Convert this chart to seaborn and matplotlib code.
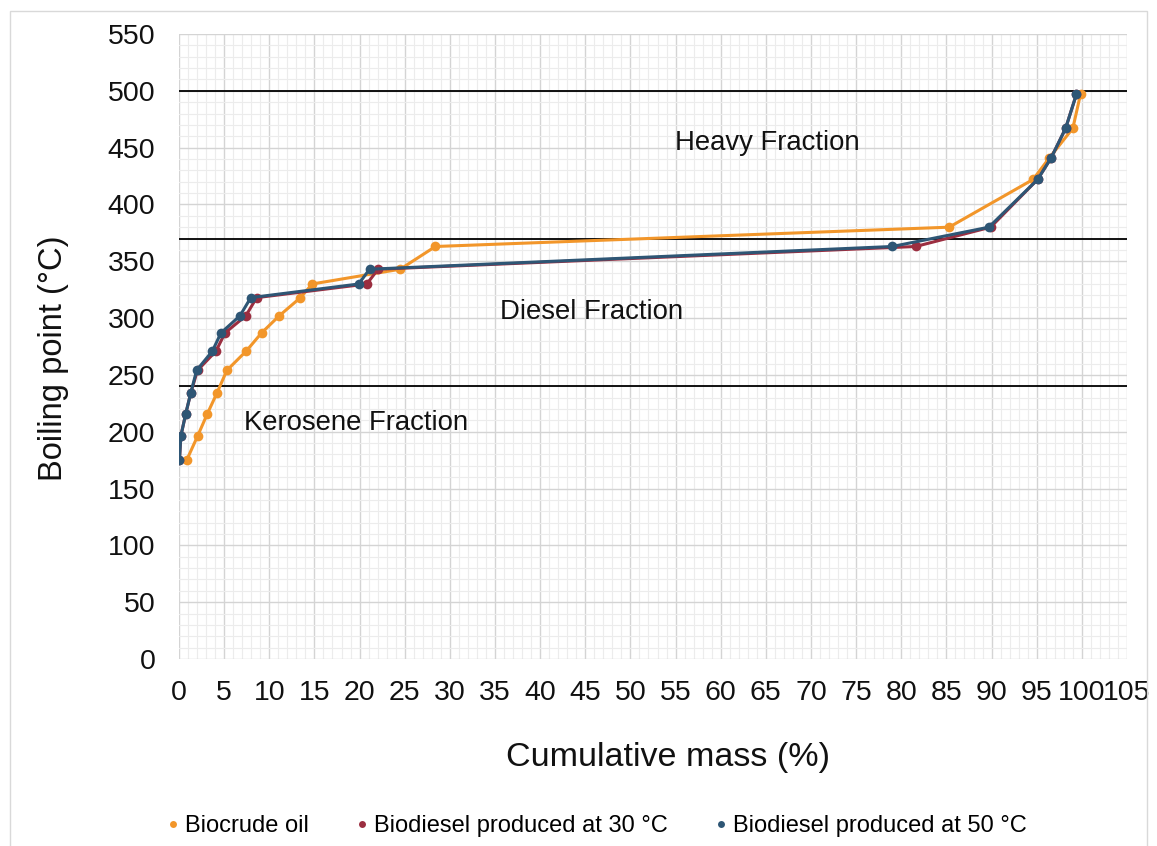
import matplotlib
matplotlib.use("Agg")
import matplotlib.pyplot as plt
from matplotlib.ticker import MultipleLocator
from matplotlib.patches import Rectangle
import seaborn as sns
import pandas as pd

# ---- data ----
series_names = ["Biocrude oil", "Biodiesel produced at 30 °C", "Biodiesel produced at 50 °C"]
bp_levels = [175, 196, 216, 234, 254, 271, 287, 302, 318, 330, 343, 363, 380, 422, 441, 467, 497]
biocrude_mass = [0.85, 2.05, 3.15, 4.2, 5.3, 7.45, 9.15, 11.1, 13.45, 14.75, 24.5, 28.4, 85.3, 94.6, 96.4, 99.0, 99.85]
bd30_mass = [0.05, 0.2, 0.75, 1.3, 2.05, 4.1, 5.1, 7.4, 8.6, 20.8, 22.05, 81.6, 89.9, 95.1, 96.6, 98.2, 99.4]
bd50_mass = [0.05, 0.2, 0.75, 1.3, 1.95, 3.7, 4.65, 6.75, 7.95, 19.9, 21.1, 79.0, 89.7, 95.1, 96.6, 98.2, 99.4]
fraction_bounds = [500, 370, 240]
fraction_labels = ["Heavy Fraction", "Diesel Fraction", "Kerosene Fraction"]
fraction_label_pos = [(65.2, 454), (45.7, 305), (19.6, 208)]
x_ticks = list(range(0, 106, 5))
y_ticks = list(range(0, 551, 50))

colors = ["#F2962A", "#9B2E40", "#2E5675"]

frames = []
for name, xs in zip(series_names, [biocrude_mass, bd30_mass, bd50_mass]):
    frames.append(pd.DataFrame({"mass": xs, "bp": bp_levels, "series": name,
                                "order": range(len(xs))}))
df = pd.concat(frames, ignore_index=True)

plt.rcParams["font.family"] = ["Liberation Sans", "DejaVu Sans"]

fig = plt.figure(figsize=(11.57, 8.46), dpi=100)
ax = fig.add_axes([179 / 1157, 1 - 659 / 846, (1127 - 179) / 1157, (659 - 34) / 846])

sns.lineplot(data=df, x="mass", y="bp", hue="series", hue_order=series_names,
             palette=colors, marker="o", markersize=7, markeredgewidth=0,
             linewidth=2.2, sort=False, estimator=None, ax=ax, legend=False)

for b in fraction_bounds:
    ax.axhline(b, color="black", linewidth=1.3, zorder=1)

for (tx, ty), lab in zip(fraction_label_pos, fraction_labels):
    ax.text(tx, ty, lab, ha="center", va="center", fontsize=19.8, color="#111111")

ax.set_xlim(0, 105)
ax.set_ylim(0, 550)
ax.set_xticks(x_ticks)
ax.set_xticklabels([str(t) for t in x_ticks])
ax.set_yticks(y_ticks)
ax.set_yticklabels([str(t) for t in y_ticks])
ax.xaxis.set_minor_locator(MultipleLocator(1))
ax.yaxis.set_minor_locator(MultipleLocator(10))
ax.grid(which="major", color="#d4d4d4", linewidth=1.0)
ax.grid(which="minor", color="#ececec", linewidth=0.8)
ax.set_axisbelow(True)
for s in ax.spines.values():
    s.set_visible(False)
ax.tick_params(which="both", length=0)
ax.tick_params(axis="x", labelsize=20.5, pad=15, colors="#111111")
ax.tick_params(axis="y", labelsize=20.5, pad=17, colors="#111111")

ax.set_xlabel("Cumulative mass (%)", fontsize=24.5, labelpad=26, color="#111111")
ax.set_ylabel("Boiling point (°C)", fontsize=23.5, labelpad=28, color="#111111")
ax.xaxis.label.set_x(0.516)
ax.yaxis.label.set_y(0.482)

handles = [plt.Line2D([], [], marker="o", linestyle="none", markersize=5,
                      markeredgewidth=0, color=c) for c in colors]
fig.legend(handles, series_names, loc="center", bbox_to_anchor=(594 / 1157, 1 - 826 / 846),
           ncol=3, frameon=False, fontsize=17, handletextpad=0.0, columnspacing=1.75,
           handlelength=1.0)

fig.patches.append(Rectangle((10 / 1157, -0.1), (1147 - 10) / 1157, 1.1 - 11 / 846,
                             transform=fig.transFigure, fill=False,
                             edgecolor="#d9d9d9", linewidth=1.0))

fig.savefig("out.png", dpi=100)
